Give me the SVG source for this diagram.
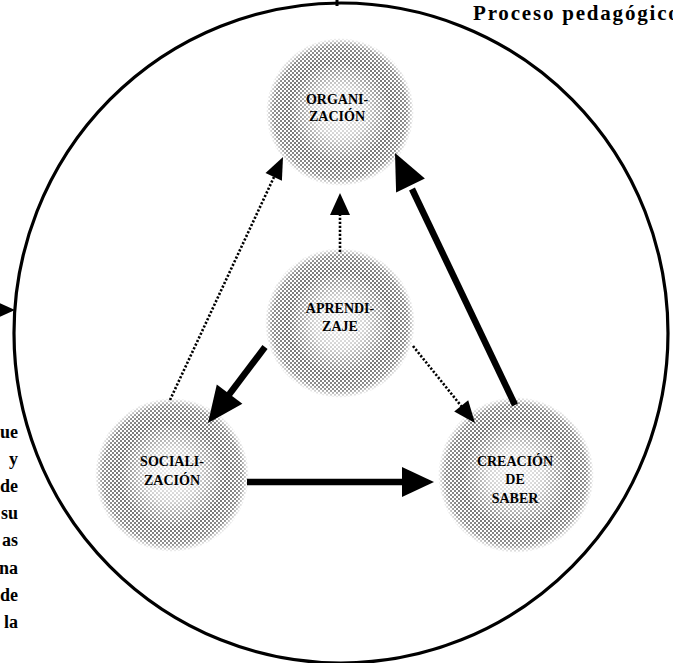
<svg xmlns="http://www.w3.org/2000/svg" width="673" height="663" viewBox="0 0 673 663">
  <style>
    .outline { fill: none; stroke: #000; stroke-width: 3.2; }
    .thick { stroke: #000; stroke-width: 6.5; fill: none; }
    .dotted { stroke: #000; stroke-width: 2.6; stroke-dasharray: 2.2 1.8; fill: none; }
    .head { fill: #000; }
    .lbl { font-family: "Liberation Serif", "Times New Roman", serif; font-weight: bold; font-size: 14px; fill: #000; text-anchor: middle; }
    .side { font-family: "Liberation Serif", "Times New Roman", serif; font-weight: bold; font-size: 18px; fill: #000; text-anchor: end; }
    .title { font-family: "Liberation Serif", "Times New Roman", serif; font-weight: bold; font-size: 21px; fill: #000; letter-spacing: 1.8px; }
  </style>
  <defs>
    <!-- halftone dot screen used for the node discs -->
    <pattern id="dots" patternUnits="userSpaceOnUse" width="4" height="4">
      <circle cx="1" cy="1" r="0.95" fill="#1a1a1a"/>
      <circle cx="3" cy="3" r="0.95" fill="#1a1a1a"/>
    </pattern>
    <!-- lighter centre, dense ring, soft outer rim -->
    <radialGradient id="fade" cx="0.5" cy="0.5" r="0.5">
      <stop offset="0" stop-color="#fff" stop-opacity="0.12"/>
      <stop offset="0.35" stop-color="#fff" stop-opacity="0.28"/>
      <stop offset="0.7" stop-color="#fff" stop-opacity="0.85"/>
      <stop offset="0.9" stop-color="#fff" stop-opacity="0.7"/>
      <stop offset="1" stop-color="#fff" stop-opacity="0"/>
    </radialGradient>
    <mask id="discMask" maskContentUnits="objectBoundingBox">
      <circle cx="0.5" cy="0.5" r="0.5" fill="url(#fade)"/>
    </mask>
  </defs>

  <rect width="673" height="663" fill="#fff"/>

  <!-- outer boundary -->
  <ellipse class="outline" cx="341" cy="333" rx="327" ry="330"/>
  <line x1="337" y1="0" x2="337" y2="6" stroke="#000" stroke-width="3"/>
  <polygon class="head" points="-12,298 15,310 -12,322"/>

  <text class="title" x="473" y="20">Proceso pedagógico</text>

  <!-- cut-off paragraph at the left margin -->
  <g id="margin-text">
    <text class="side" x="18" y="438">ue</text>
    <text class="side" x="18" y="465">y</text>
    <text class="side" x="18" y="492">de</text>
    <text class="side" x="18" y="519">su</text>
    <text class="side" x="18" y="546">as</text>
    <text class="side" x="18" y="574">na</text>
    <text class="side" x="18" y="601">de</text>
    <text class="side" x="18" y="628">la</text>
  </g>

  <g id="node-organizacion">
    <circle cx="340" cy="112" r="74" fill="url(#dots)" mask="url(#discMask)"/>
    <text class="lbl" x="337" y="104">ORGANI-</text>
    <text class="lbl" x="337" y="121">ZACIÓN</text>
  </g>

  <g id="node-aprendizaje">
    <circle cx="340" cy="323" r="75" fill="url(#dots)" mask="url(#discMask)"/>
    <text class="lbl" x="340" y="313">APRENDI-</text>
    <text class="lbl" x="340" y="331">ZAJE</text>
  </g>

  <g id="node-socializacion">
    <circle cx="172" cy="475" r="77" fill="url(#dots)" mask="url(#discMask)"/>
    <text class="lbl" x="172" y="466">SOCIALI-</text>
    <text class="lbl" x="172" y="485">ZACIÓN</text>
  </g>

  <g id="node-creacion">
    <circle cx="516" cy="475" r="78" fill="url(#dots)" mask="url(#discMask)"/>
    <text class="lbl" x="515" y="466">CREACIÓN</text>
    <text class="lbl" x="515" y="484">DE</text>
    <text class="lbl" x="515" y="503">SABER</text>
  </g>

  <g id="connectors">
    <!-- socialización to organización (dotted) -->
    <line class="dotted" x1="170" y1="400" x2="274" y2="177"/>
    <polygon class="head" points="283,157 281.9,180.7 265.5,173.1"/>
    <!-- aprendizaje to organización (dotted) -->
    <line class="dotted" x1="340" y1="252" x2="340" y2="214"/>
    <polygon class="head" points="340,193 350,215 330,215"/>
    <!-- creación to organización (solid) -->
    <line class="thick" x1="515" y1="405" x2="412" y2="189"/>
    <polygon class="head" points="395,153 424.9,178.6 396.1,192.4"/>
    <!-- aprendizaje to creación (dotted) -->
    <line class="dotted" x1="413" y1="346" x2="462" y2="407"/>
    <polygon class="head" points="475,423 454.2,411.5 468.2,400.3"/>
    <!-- aprendizaje to socialización (solid) -->
    <line class="thick" x1="265" y1="347" x2="228" y2="396"/>
    <polygon class="head" points="208,423 216.8,384.6 242.4,403.8"/>
    <!-- socialización to creación (solid) -->
    <line class="thick" x1="247" y1="482" x2="405" y2="482"/>
    <polygon class="head" points="434,482 402,467 402,497"/>
  </g>
</svg>
